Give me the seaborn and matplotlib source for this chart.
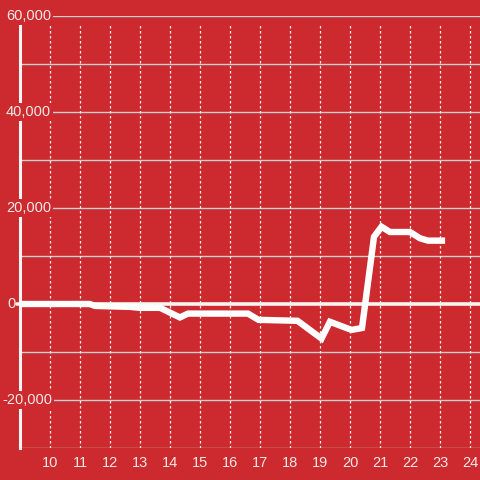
import numpy as np
import pandas as pd
import seaborn as sns
import matplotlib.pyplot as plt
import matplotlib.transforms as mtransforms

# Series
x_vals = [9.0, 11.33, 11.5, 12.67, 13.0, 13.67, 14.33, 14.6, 16.6, 16.95,
          18.25, 19.05, 19.33, 20.05, 20.4, 20.8, 21.05, 21.33, 22.0, 22.33,
          22.6, 23.17]
y_vals = [0, 0, -400, -600, -800, -800, -2800, -2000, -2000, -3300,
          -3500, -7200, -3700, -5400, -5000, 14000, 16100, 15000, 15000, 13700,
          13200, 13200]
x_ticks = list(range(10, 25))
y_ticks = [-20000, 0, 20000, 40000, 60000]

BG = '#cc2a2e'
TXT = '#f2e8e8'
GRID = '#cfcfcf'

sns.set_style("white", {"axes.facecolor": BG, "figure.facecolor": BG})
plt.rcParams['font.family'] = ['Liberation Sans', 'DejaVu Sans']

fig = plt.figure(figsize=(4.8, 4.8), dpi=100)
ax = fig.add_axes([20 / 480, 32 / 480, 460 / 480, 432 / 480])
ax.set_facecolor(BG)

df = pd.DataFrame({'x': x_vals, 'y': y_vals})

ax.set_xlim(9.0, 24.333)
ax.set_ylim(-30000, 60000)

# horizontal grid every 10,000
for v in range(-30000, 60001, 10000):
    if v == 0:
        continue
    ax.axhline(v, color=GRID, lw=1.0, zorder=1)

# dotted vertical grid
for t in x_ticks:
    ax.axvline(t, ymax=0.984, color='#f0f0f0', lw=0.9, ls=(0, (2, 2)), zorder=1)

# zero line, slightly sticking out past the left spine
ax.axhline(0, xmin=-3 / 460, color='#f5f5f5', lw=2.6, zorder=5, clip_on=False)

sns.lineplot(data=df, x='x', y='y', color='white', lw=4.6, ax=ax,
             zorder=6, solid_capstyle='butt', solid_joinstyle='miter')

for s in ['top', 'right', 'bottom']:
    ax.spines[s].set_visible(False)
ax.spines['left'].set_color('#f5f5f5')
ax.spines['left'].set_linewidth(2.2)
ax.spines['left'].set_zorder(2)

ax.set_xticks(x_ticks)
ax.set_xticklabels([str(t) for t in x_ticks])
ax.tick_params(axis='x', length=0, pad=6, labelsize=10.5, colors=TXT)
ax.set_yticks([])
ax.set_xlabel('')
ax.set_ylabel('')

# y labels drawn inside the plot with a masking box
trans = mtransforms.blended_transform_factory(ax.transAxes, ax.transData)
for v in y_ticks:
    xpos = -4 / 460 if v == 0 else (32 / 460 if v < 0 else 31 / 460)
    ax.text(xpos, v, f'{v:,}', transform=trans, ha='right', va='center',
            fontsize=10.5, color=TXT, zorder=4,
            bbox=dict(facecolor=BG, edgecolor='none', pad=1.5))

fig.savefig('out.png', dpi=100, facecolor=BG)
